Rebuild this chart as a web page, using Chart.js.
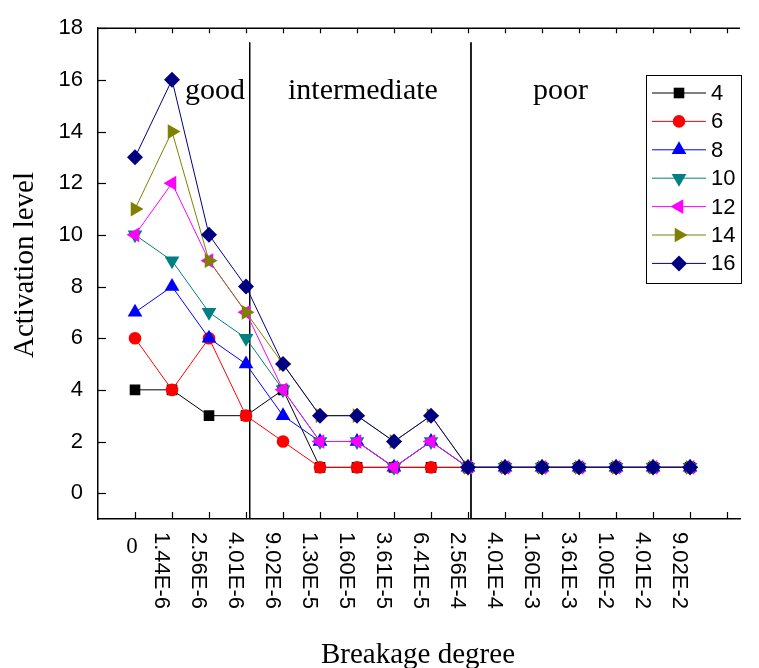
<!DOCTYPE html>
<html>
<head>
<meta charset="utf-8">
<script src="https://cdn.jsdelivr.net/npm/chart.js@4"></script>
<style>
  html, body { margin: 0; padding: 0; background: #fff; }
  #wrap { width: 759px; height: 668px; }
</style>
</head>
<body>
<div id="wrap"><canvas id="myChart"></canvas></div>
<script>
// breakage degree categories (x axis)
const categories = ['0', '1.44E-6', '2.56E-6', '4.01E-6', '9.02E-6', '1.30E-5', '1.60E-5', '3.61E-5',
  '6.41E-5', '2.56E-4', '4.01E-4', '1.60E-3', '3.61E-3', '1.00E-2', '4.01E-2', '9.02E-2'];

// activation level per series
const seriesNames = ['4', '6', '8', '10', '12', '14', '16'];
const s4  = [4, 4, 3, 3, 4, 1, 1, 1, 1, 1, 1, 1, 1, 1, 1, 1];
const s6  = [6, 4, 6, 3, 2, 1, 1, 1, 1, 1, 1, 1, 1, 1, 1, 1];
const s8  = [7, 8, 6, 5, 3, 2, 2, 1, 2, 1, 1, 1, 1, 1, 1, 1];
const s10 = [10, 9, 7, 6, 4, 2, 2, 1, 2, 1, 1, 1, 1, 1, 1, 1];
const s12 = [10, 12, 9, 7, 4, 2, 2, 1, 2, 1, 1, 1, 1, 1, 1, 1];
const s14 = [11, 14, 9, 7, 5, 3, 3, 2, 3, 1, 1, 1, 1, 1, 1, 1];
const s16 = [13, 16, 10, 8, 5, 3, 3, 2, 3, 1, 1, 1, 1, 1, 1, 1];

const yTicks = [0, 2, 4, 6, 8, 10, 12, 14, 16, 18];
const zoneNames = ['good', 'intermediate', 'poor'];
const zoneBounds = [3.1, 9.08];

const colors = ['#000000', '#FF0000', '#0000FF', '#008080', '#FF00FF', '#808000', '#000080'];
const styles = [
  { pointStyle: 'rect', radius: 7.5, rotation: 0 },
  { pointStyle: 'circle', radius: 6.3, rotation: 0 },
  { pointStyle: 'triangle', radius: 8.5, rotation: 0 },
  { pointStyle: 'triangle', radius: 8.5, rotation: 180 },
  { pointStyle: 'triangle', radius: 8.5, rotation: 270 },
  { pointStyle: 'triangle', radius: 8.5, rotation: 90 },
  { pointStyle: 'rectRot', radius: 8, rotation: 0 },
];
const allSeries = [s4, s6, s8, s10, s12, s14, s16];

const datasets = allSeries.map((s, i) => ({
  label: seriesNames[i],
  data: s.map((v, k) => ({ x: k, y: v })),
  borderColor: colors[i],
  backgroundColor: colors[i],
  borderWidth: 1,
  pointStyle: styles[i].pointStyle,
  pointRadius: styles[i].radius,
  pointRotation: styles[i].rotation,
  pointBorderWidth: 0,
  pointHoverRadius: styles[i].radius,
  order: 10 - i,
}));

zoneBounds.forEach(b => {
  datasets.push({
    label: '',
    data: [{ x: b, y: 17.45 }, { x: b, y: -1 }],
    borderColor: '#000',
    borderWidth: 1,
    pointRadius: 0,
    order: 20,
  });
});

const serif = '"Liberation Serif", "Times New Roman", serif';
const sans = '"Liberation Sans", Arial, sans-serif';

const decor = {
  id: 'decor',
  afterDraw(chart) {
    const ctx = chart.ctx;
    const xs = chart.scales.x, ys = chart.scales.y;
    const a = chart.chartArea;
    ctx.save();
    ctx.strokeStyle = '#000';
    ctx.lineWidth = 1.5;
    // top frame line
    ctx.beginPath();
    ctx.moveTo(a.left, a.top);
    ctx.lineTo(a.right, a.top);
    ctx.stroke();
    // inward ticks
    ctx.lineWidth = 1.2;
    for (let i = 0; i <= categories.length; i++) {
      const px = Math.round(xs.getPixelForValue(i)) + 0.5;
      ctx.beginPath();
      ctx.moveTo(px, a.bottom); ctx.lineTo(px, a.bottom - 7);
      ctx.moveTo(px, a.top); ctx.lineTo(px, a.top + 5);
      ctx.stroke();
    }
    yTicks.forEach(v => {
      const py = Math.round(ys.getPixelForValue(v)) + 0.5;
      ctx.beginPath();
      ctx.moveTo(a.left, py); ctx.lineTo(a.left + 8, py);
      ctx.stroke();
    });

    // x tick labels, rotated clockwise
    ctx.fillStyle = '#000';
    categories.forEach((c, i) => {
      const px = xs.getPixelForValue(i);
      if (i === 0) {
        ctx.font = '23px ' + serif;
        ctx.textAlign = 'center';
        ctx.textBaseline = 'top';
        ctx.fillText(c, px - 3, a.bottom + 16);
        return;
      }
      ctx.save();
      ctx.translate(px, a.bottom + 13);
      ctx.rotate(Math.PI / 2);
      ctx.font = '22px ' + sans;
      ctx.textAlign = 'left';
      ctx.textBaseline = 'alphabetic';
      ctx.fillText(c, 0, 17);
      ctx.restore();
    });

    // axis titles
    ctx.font = '29px ' + serif;
    ctx.textAlign = 'center';
    ctx.textBaseline = 'alphabetic';
    ctx.fillText('Breakage degree', (a.left + a.right) / 2 - 1, 663);
    ctx.save();
    ctx.translate(33, 265);
    ctx.rotate(-Math.PI / 2);
    ctx.fillText('Activation level', 0, 0);
    ctx.restore();

    // zone names
    const zoneX = [2.16, 6.16, 11.5];
    ctx.font = '30px ' + serif;
    zoneNames.forEach((z, i) => {
      ctx.fillText(z, xs.getPixelForValue(zoneX[i]), 99);
    });

    // legend
    const lx = 646, ly = 75, lw = 95, lh = 208;
    ctx.fillStyle = '#fff';
    ctx.fillRect(lx, ly, lw, lh);
    ctx.lineWidth = 1;
    ctx.strokeStyle = '#000';
    ctx.strokeRect(lx + 0.5, ly + 0.5, lw, lh);
    seriesNames.forEach((n, i) => {
      const y = 93 + 28.4 * i;
      ctx.strokeStyle = colors[i];
      ctx.beginPath();
      ctx.moveTo(652, y); ctx.lineTo(706, y);
      ctx.stroke();
      ctx.fillStyle = colors[i];
      Chart.helpers.drawPoint(ctx, {
        pointStyle: styles[i].pointStyle,
        radius: styles[i].radius,
        rotation: styles[i].rotation,
        borderWidth: 0,
      }, 679, y);
      ctx.fillStyle = '#000';
      ctx.font = '22px ' + sans;
      ctx.textAlign = 'left';
      ctx.textBaseline = 'middle';
      ctx.fillText(n, 711, y + 1);
    });
    ctx.restore();
  }
};

new Chart(document.getElementById('myChart'), {
  type: 'line',
  data: { datasets: datasets },
  options: {
    responsive: true,
    maintainAspectRatio: false,
    animation: false,
    layout: { padding: { left: 0, top: 26, right: 19, bottom: 0 } },
    plugins: { legend: { display: false }, tooltip: { enabled: false } },
    scales: {
      x: {
        type: 'linear',
        min: -1,
        max: 16.35,
        grid: { display: false, drawTicks: false, tickLength: 0 },
        border: { display: true, color: '#000', width: 1.5 },
        ticks: { display: false },
        afterFit(scale) { scale.height = 149; },
      },
      y: {
        min: -1,
        max: 18,
        grid: { display: false, drawTicks: false, tickLength: 0 },
        border: { display: true, color: '#000', width: 1.5 },
        afterBuildTicks(scale) { scale.ticks = yTicks.map(v => ({ value: v })); },
        ticks: {
          color: '#000',
          padding: 15,
          font: { family: sans, size: 22 },
        },
        afterFit(scale) { scale.width = 98; },
      },
    },
  },
  plugins: [decor],
});
</script>
</body>
</html>
